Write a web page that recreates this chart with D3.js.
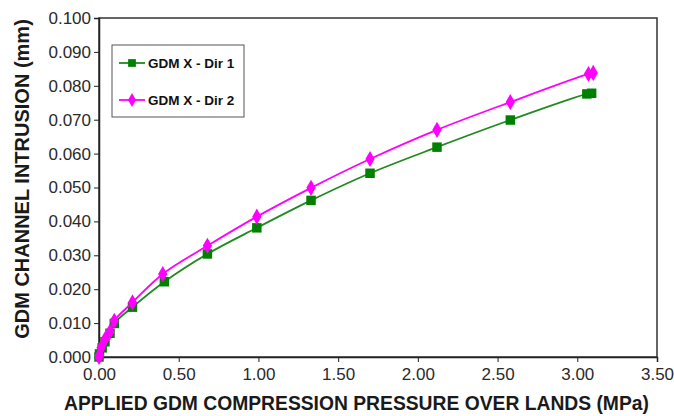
<!DOCTYPE html>
<html><head><meta charset="utf-8">
<script src="https://cdn.jsdelivr.net/npm/d3@7"></script>
<style>
html,body{margin:0;padding:0;background:#fff;}
svg{display:block;font-family:"Liberation Sans",Arial,sans-serif;}
</style></head>
<body>
<svg id="chart" width="674" height="416"></svg>
<script>
// ---- data ----
const seriesNames = ["GDM X - Dir 1", "GDM X - Dir 2"];
const pressureDir1 = [0, 0.003, 0.02, 0.0375, 0.069, 0.096, 0.21, 0.41, 0.68, 0.99, 1.33, 1.70, 2.12, 2.58, 3.06, 3.09];
const intrusionDir1 = [0, 0.0009, 0.0027, 0.0045, 0.0070, 0.0099, 0.0147, 0.0222, 0.0304, 0.0381, 0.0462, 0.0542, 0.0619, 0.0699, 0.0776, 0.0778];
const pressureDir2 = [0, 0.003, 0.013, 0.0375, 0.069, 0.096, 0.21, 0.40, 0.68, 0.99, 1.33, 1.70, 2.12, 2.58, 3.07, 3.10];
const intrusionDir2 = [0, 0.0006, 0.0027, 0.0052, 0.0075, 0.0107, 0.0161, 0.0245, 0.0328, 0.0414, 0.0499, 0.0584, 0.0670, 0.0752, 0.0835, 0.0838];
const xTicks = [0, 0.5, 1.0, 1.5, 2.0, 2.5, 3.0, 3.5];
const yTicks = [0, 0.01, 0.02, 0.03, 0.04, 0.05, 0.06, 0.07, 0.08, 0.09, 0.10];
const xTitle = "APPLIED GDM COMPRESSION PRESSURE OVER LANDS (MPa)";
const yTitle = "GDM CHANNEL INTRUSION (mm)";

// ---- layout ----
const W = 674, H = 416;
const m = {left: 99, top: 18, right: 17, bottom: 59};
const svg = d3.select("#chart");
svg.append("rect").attr("width", W).attr("height", H).attr("fill", "#fff");

const x = d3.scaleLinear().domain([0, 3.5]).range([m.left, W - m.right]);
const y = d3.scaleLinear().domain([0, 0.1]).range([H - m.bottom, m.top]);

// plot frame
svg.append("rect")
  .attr("x", x(0)).attr("y", y(0.1))
  .attr("width", x(3.5) - x(0)).attr("height", y(0) - y(0.1))
  .attr("fill", "#fff").attr("stroke", "#333").attr("stroke-width", 1.5);

const xAxis = svg.append("g").attr("transform", `translate(0,${y(0)})`)
  .call(d3.axisBottom(x).tickValues(xTicks).tickFormat(d3.format(".2f")).tickSize(5).tickPadding(6));
const yAxis = svg.append("g").attr("transform", `translate(${x(0)},0)`)
  .call(d3.axisLeft(y).tickValues(yTicks).tickFormat(d3.format(".3f")).tickSize(5).tickPadding(3));
[xAxis, yAxis].forEach(g => {
  g.select(".domain").attr("stroke", "#222").attr("stroke-width", 1.5);
  g.selectAll(".tick line").attr("stroke", "#222");
  g.selectAll(".tick text").attr("fill", "#2a2a2a")
    .style("font-family", '"Liberation Sans",Arial,sans-serif').style("font-size", "17px");
});

// titles
svg.append("text").attr("x", 64).attr("y", 410).attr("text-anchor", "start")
  .style("font-size", "19.3px").style("font-weight", "bold").attr("fill", "#1a1a1a").text(xTitle);
svg.append("text").attr("transform", `translate(29,179) rotate(-90)`)
  .attr("text-anchor", "middle")
  .style("font-size", "20px").style("font-weight", "bold").attr("fill", "#1a1a1a").text(yTitle);

// series
const series = [
  {name: seriesNames[0], xs: pressureDir1, ys: intrusionDir1, color: "#1f8a1f", mcolor: "#008000", shape: "square"},
  {name: seriesNames[1], xs: pressureDir2, ys: intrusionDir2, color: "#ff00ff", mcolor: "#ff00ff", shape: "diamond"}
];
const line = d3.line().x(d => x(d[0])).y(d => y(d[1])).curve(d3.curveCatmullRom.alpha(0.5));
const symSquare = d3.symbol().type(d3.symbolSquare).size(90)();
const symDiamond = d3.symbol().type(d3.symbolDiamond).size(75)();

series.forEach(s => {
  const pts = s.xs.map((v, i) => [v, s.ys[i]]);
  svg.append("path").datum(pts).attr("d", line).attr("fill", "none")
    .attr("stroke", s.color).attr("stroke-width", 1.8);
  svg.append("g").selectAll("path").data(pts).join("path")
    .attr("transform", d => `translate(${x(d[0])},${y(d[1])})`)
    .attr("d", s.shape === "square" ? symSquare : symDiamond)
    .attr("fill", s.mcolor);
});

// legend
const lg = svg.append("g");
lg.append("rect").attr("x", 112).attr("y", 45).attr("width", 132).attr("height", 72)
  .attr("fill", "#fff").attr("stroke", "#555").attr("stroke-width", 1);
series.forEach((s, i) => {
  const cy = 63 + i * 37;
  lg.append("line").attr("x1", 119).attr("x2", 145).attr("y1", cy).attr("y2", cy)
    .attr("stroke", s.color).attr("stroke-width", 1.8);
  lg.append("path").attr("transform", `translate(132,${cy})`)
    .attr("d", s.shape === "square" ? d3.symbol().type(d3.symbolSquare).size(60)() : d3.symbol().type(d3.symbolDiamond).size(55)())
    .attr("fill", s.mcolor);
  lg.append("text").attr("x", 148).attr("y", cy + 5)
    .style("font-size", "13.5px").style("font-weight", "bold").attr("fill", "#111").text(s.name);
});
</script>
</body></html>
